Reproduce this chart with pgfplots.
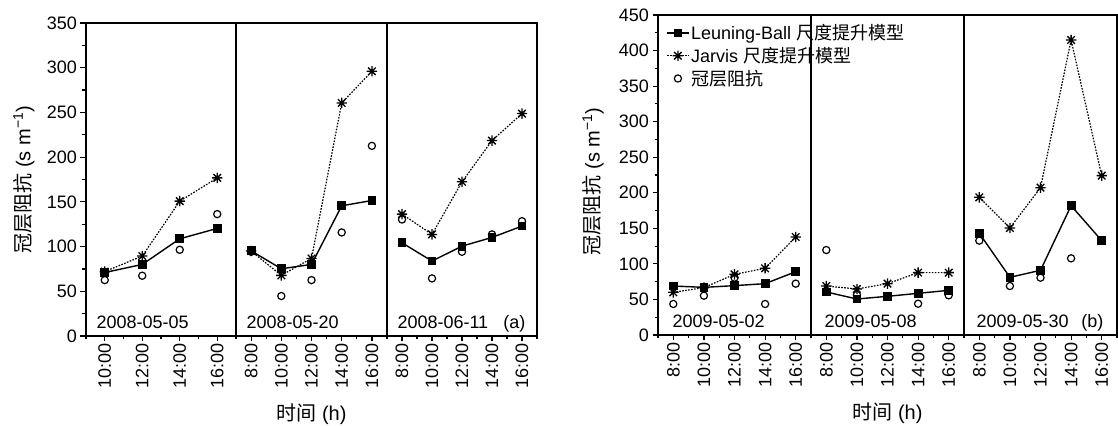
\documentclass[border=0pt]{standalone}
\usepackage{pgfplots}
\pgfplotsset{compat=1.18}
\usepackage{fontspec}
\setmainfont{Liberation Sans}
\newfontfamily\cjk{Noto Sans CJK SC}
\newcommand\tf{\fontsize{18bp}{21bp}\selectfont}
\newcommand\lf{\fontsize{20bp}{23bp}\selectfont}
\pgfdeclareplotmark{ast8}{%
  \pgfpathmoveto{\pgfqpoint{0pt}{\pgfplotmarksize}}\pgfpathlineto{\pgfqpoint{0pt}{-\pgfplotmarksize}}%
  \pgfpathmoveto{\pgfqpoint{\pgfplotmarksize}{0pt}}\pgfpathlineto{\pgfqpoint{-\pgfplotmarksize}{0pt}}%
  \pgfpathmoveto{\pgfqpoint{.72\pgfplotmarksize}{.72\pgfplotmarksize}}\pgfpathlineto{\pgfqpoint{-.72\pgfplotmarksize}{-.72\pgfplotmarksize}}%
  \pgfpathmoveto{\pgfqpoint{-.72\pgfplotmarksize}{.72\pgfplotmarksize}}\pgfpathlineto{\pgfqpoint{.72\pgfplotmarksize}{-.72\pgfplotmarksize}}%
  \pgfusepathqstroke}
\tikzset{date/.style={anchor=base west, font=\tf}}
\pgfplotsset{
  base/.style={scale only axis, anchor=south west, tick align=outside,
    xtick pos=left, ytick pos=left,
    axis line style={line width=1.3bp},
    every tick/.style={black, line width=1.2bp},
    major tick length=5.5bp, minor tick length=3.5bp,
    ymin=0, xmin=7, xmax=17, xtick={8,10,12,14,16}, minor xtick={7,9,...,17},
    xticklabels={8:00,10:00,12:00,14:00,16:00},
    xticklabel style={rotate=90, anchor=east, font=\tf, inner sep=2bp},
    yticklabel style={font=\tf},
    /pgf/number format/assume math mode=true,
    every axis x label/.style={at={(rel axis cs:0.5,0)}, yshift=-78bp, anchor=center, font=\lf},
    clip=false},
  noy/.style={ytick=\empty},
  pa/.style={base, ymax=350, height=313bp},
  pb/.style={base, ymax=450, height=320bp},
  lb/.style={black, line width=1.4bp, mark=square*, mark size=3.7bp, mark options={solid}},
  ja/.style={black, line width=1.2bp, dash pattern=on 1.6bp off 1.4bp, mark=ast8, mark size=5.2bp, mark options={solid, line width=1.3bp}},
  ob/.style={black, only marks, mark=o, mark size=3.6bp, mark options={line width=1.2bp}},
}
\begin{document}
\begin{tikzpicture}
\useasboundingbox (0,0) rectangle (1118bp,426bp);
% ---------------- panel (a)
\begin{axis}[pa, at={(86bp,90bp)}, width=150bp, xmin=9, xmax=17,
  xtick={10,12,14,16}, minor xtick={9,11,...,17},
  xticklabels={10:00,12:00,14:00,16:00},
  ytick={0,50,...,350}, minor ytick={25,75,...,325},
  every axis y label/.style={at={(rel axis cs:0,0.5)}, xshift=-62bp, rotate=90, anchor=center, font=\lf},
  ylabel={{\cjk 冠层阻抗} (s m\textsuperscript{\char"2212 1})}]
\addplot[lb] coordinates {(10,71) (12,80) (14,108.7) (16,120.3)};
\addplot[ja] coordinates {(10,72) (12,89.4) (14,150.8) (16,176.8)};
\addplot[ob] coordinates {(10,62.5) (12,67.4) (14,96.4) (16,136.3)};
\node[date, xshift=7bp, yshift=8bp] at (rel axis cs:0,0) {2008-05-05};
\end{axis}
\begin{axis}[pa, noy, at={(236bp,90bp)}, width=151bp,
  xlabel={{\cjk 时间} (h)}]
\addplot[lb] coordinates {(8,95.3) (10,75.2) (12,80) (14,145.6) (16,151.5)};
\addplot[ja] coordinates {(8,95) (10,67.8) (12,86.7) (14,260.6) (16,296)};
\addplot[ob] coordinates {(8,94.2) (10,44.7) (12,62.5) (14,115.8) (16,212.6)};
\node[date, xshift=7bp, yshift=8bp] at (rel axis cs:0,0) {2008-05-20};
\end{axis}
\begin{axis}[pa, noy, at={(387bp,90bp)}, width=150bp]
\addplot[lb] coordinates {(8,104.2) (10,83.8) (12,100.5) (14,110.2) (16,122.9)};
\addplot[ja] coordinates {(8,136.3) (10,113.6) (12,172.4) (14,218.5) (16,248.7)};
\addplot[ob] coordinates {(8,130.3) (10,64.4) (12,94.2) (14,113.6) (16,128.4)};
\node[date, xshift=7bp, yshift=8bp] at (rel axis cs:0,0) {2008-06-11};
\node[anchor=base east, font=\tf, xshift=-8bp, yshift=8bp] at (rel axis cs:1,0) {(a)};
\end{axis}
% ---------------- panel (b)
\begin{axis}[pb, at={(658bp,91bp)}, width=153bp,
  ytick={0,50,...,450}, minor ytick={25,75,...,425},
  every axis y label/.style={at={(rel axis cs:0,0.48)}, xshift=-65bp, rotate=90, anchor=center, font=\lf},
  ylabel={{\cjk 冠层阻抗} (s m\textsuperscript{\char"2212 1})},
  legend style={at={(rel axis cs:0,1)}, anchor=north west, xshift=8bp, yshift=-8bp,
    draw=none, fill=none, font=\tf, row sep=3bp, inner sep=0bp,
    nodes={inner sep=1.5bp}},
  legend cell align=left,
  legend image code/.code={\draw[mark repeat=2, mark phase=2, #1] plot coordinates {(0bp,0bp) (11bp,0bp) (22bp,0bp)};}]
\addplot[lb] coordinates {(8,68.9) (10,67) (12,69.4) (14,72.2) (16,89)};
\addlegendentry{Leuning-Ball {\cjk 尺度提升模型}}
\addplot[ja] coordinates {(8,60) (10,66.6) (12,85.3) (14,93.8) (16,137.8)};
\addlegendentry{Jarvis {\cjk 尺度提升模型}}
\addplot[ob] coordinates {(8,43.6) (10,55.3) (12,80.6) (14,43.6) (16,72.2)};
\addlegendentry{{\cjk 冠层阻抗}}
\node[date, xshift=11bp, yshift=8bp] at (rel axis cs:0,0) {2009-05-02};
\end{axis}
\begin{axis}[pb, noy, at={(811bp,91bp)}, width=153bp,
  xlabel={{\cjk 时间} (h)}]
\addplot[lb] coordinates {(8,60.5) (10,50.6) (12,54.4) (14,58.6) (16,62.8)};
\addplot[ja] coordinates {(8,68.9) (10,64.7) (12,72.2) (14,87.7) (16,87.7)};
\addplot[ob] coordinates {(8,119.5) (10,56.3) (12,54.4) (14,44) (16,55.8)};
\node[date, xshift=10bp, yshift=8bp] at (rel axis cs:0,0) {2009-05-08};
\end{axis}
\begin{axis}[pb, noy, at={(964bp,91bp)}, width=153bp]
\addplot[lb] coordinates {(8,143) (10,81.1) (12,91) (14,181.9) (16,132.7)};
\addplot[ja] coordinates {(8,193.6) (10,150.5) (12,207.2) (14,414.9) (16,224.1)};
\addplot[ob] coordinates {(8,132.7) (10,68.9) (12,80.6) (14,107.8) (16,132.7)};
\node[date, xshift=9bp, yshift=8bp] at (rel axis cs:0,0) {2009-05-30};
\node[anchor=base east, font=\tf, xshift=-10bp, yshift=8bp] at (rel axis cs:1,0) {(b)};
\end{axis}
\end{tikzpicture}
\end{document}
